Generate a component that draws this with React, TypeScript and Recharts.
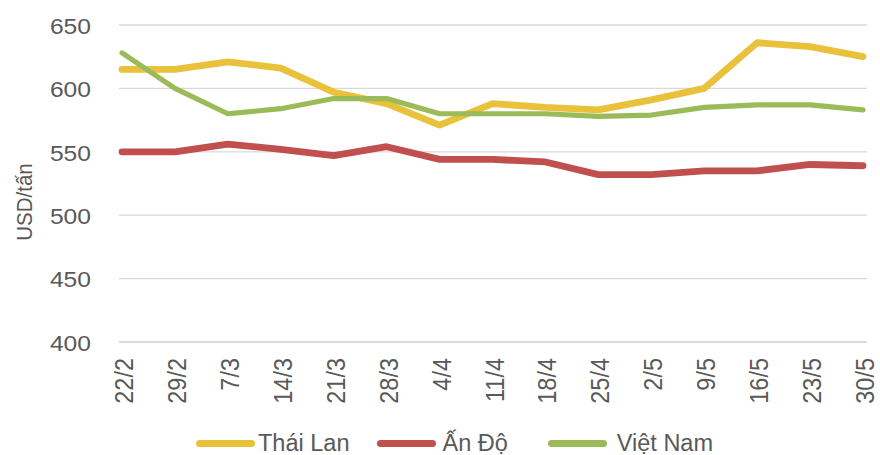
import React from 'react';
import { LineChart, Line, XAxis, YAxis, CartesianGrid, Legend } from 'recharts';

const categories = ['22/2', '29/2', '7/3', '14/3', '21/3', '28/3', '4/4', '11/4', '18/4', '25/4', '2/5', '9/5', '16/5', '23/5', '30/5'];
const thaiLan = [615, 615, 621, 616, 597, 588, 571, 588, 585, 583, 591, 600, 636, 633, 625];
const anDo = [550, 550, 556, 552, 547, 554, 544, 544, 542, 532, 532, 535, 535, 540, 539];
const vietNam = [628, 600, 580, 584, 592, 592, 580, 580, 580, 578, 579, 585, 587, 587, 583];
const yTicks = [400, 450, 500, 550, 600, 650];

const seriesInfo = [
  { key: 'thaiLan', name: 'Thái Lan', color: '#E9C13B', width: 6.8 },
  { key: 'anDo', name: 'Ấn Độ', color: '#C0504D', width: 6.8 },
  { key: 'vietNam', name: 'Việt Nam', color: '#9BBB59', width: 5.2 },
];

const data = categories.map((c, i) => ({
  cat: c,
  thaiLan: thaiLan[i],
  anDo: anDo[i],
  vietNam: vietNam[i],
}));

const FONT = '"Liberation Sans", Arial, sans-serif';
const TEXT = '#595959';
const SX = 1.12;

const XTick = (props: any) => {
  const { x, y, payload } = props;
  return (
    <text
      transform={`translate(${x},${y + 16}) scale(${SX},1) rotate(-90)`}
      textAnchor="end"
      dy="0.42em"
      fill={TEXT}
      fontSize={23.5}
      fontFamily={FONT}
    >
      {payload.value}
    </text>
  );
};

const YTick = (props: any) => {
  const { x, y, payload } = props;
  return (
    <text
      transform={`translate(${x},${y}) scale(${SX},1)`}
      textAnchor="end"
      dy="0.4em"
      fill={TEXT}
      fontSize={22}
      fontFamily={FONT}
    >
      {payload.value}
    </text>
  );
};

const legendGaps = [
  { after: 28, textGap: 3 },
  { after: 40, textGap: 6 },
  { after: 0, textGap: 10 },
];

const LegendContent = () => (
  <div
    style={{
      display: 'flex',
      alignItems: 'center',
      height: 30,
      paddingTop: 6,
      boxSizing: 'border-box',
      paddingLeft: 196,
      fontFamily: FONT,
      fontSize: 23.5,
      color: TEXT,
      whiteSpace: 'nowrap',
    }}
  >
    {seriesInfo.map((s, i) => (
      <div key={s.key} style={{ display: 'flex', alignItems: 'center', marginRight: legendGaps[i].after }}>
        <div
          style={{
            width: 59,
            height: 7,
            borderRadius: 4,
            background: s.color,
            marginRight: legendGaps[i].textGap,
          }}
        />
        <span>{s.name}</span>
      </div>
    ))}
  </div>
);

const YLabel = () => (
  <text
    transform={`translate(31.5,202) scale(${SX},1) rotate(-90)`}
    textAnchor="middle"
    fill={TEXT}
    fontSize={20.5}
    fontFamily={FONT}
  >
    USD/tấn
  </text>
);

export default function App() {
  return (
    <div style={{ position: 'absolute', left: 0, top: 0, width: 880, height: 455, background: '#fff' }}>
      <LineChart width={880} height={455} data={data} margin={{ top: 25, right: 13, left: 0, bottom: 0 }}>
        <CartesianGrid vertical={false} stroke="#D9D9D9" strokeWidth={1.3} />
        <XAxis
          dataKey="cat"
          interval={0}
          height={83}
          tickLine={false}
          tickSize={0}
          tickMargin={0}
          axisLine={{ stroke: '#D9D9D9', strokeWidth: 1.3 }}
          tick={<XTick />}
          padding={{ left: 3, right: 4 }}
        />
        <YAxis
          width={119}
          domain={[400, 650]}
          ticks={yTicks}
          interval={0}
          axisLine={false}
          tickLine={false}
          tickSize={0}
          tickMargin={28}
          tick={<YTick />}
        />
        <Legend verticalAlign="bottom" content={<LegendContent />} wrapperStyle={{ height: 30 }} />
        {seriesInfo.map((s) => (
          <Line
            key={s.key}
            type="linear"
            dataKey={s.key}
            name={s.name}
            stroke={s.color}
            strokeWidth={s.width}
            strokeLinecap="round"
            strokeLinejoin="round"
            dot={false}
            activeDot={false}
            isAnimationActive={false}
          />
        ))}
        <YLabel />
      </LineChart>
    </div>
  );
}
